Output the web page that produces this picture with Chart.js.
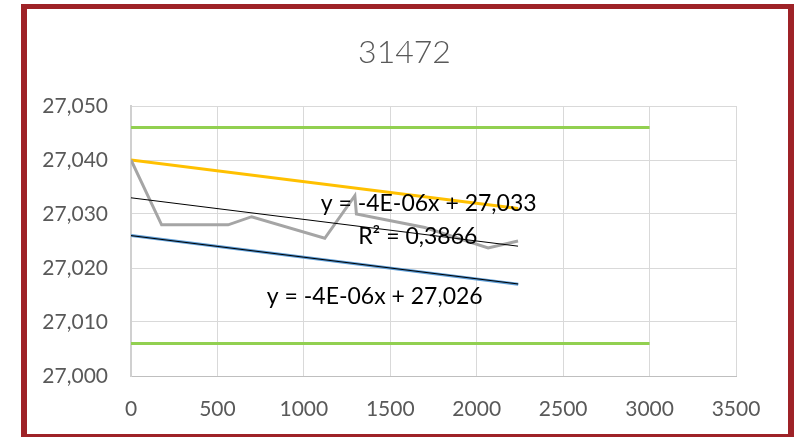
<!DOCTYPE html>
<html>
<head>
<meta charset="utf-8">
<script src="https://cdn.jsdelivr.net/npm/chart.js@4/dist/chart.umd.min.js"></script>
<style>
  html, body { margin: 0; padding: 0; background: #fff; }
  #frame {
    position: absolute; left: 21px; top: 4px;
    width: 773px; height: 436px; box-sizing: border-box;
    border: 6px solid #9E2227; border-top-width: 5px; background: #fff;
  }
  #frame canvas { display: block; }
</style>
</head>
<body>
<div id="frame"><canvas id="c" width="761" height="425"></canvas></div>
<script>
// Measured profile (distance vs value)
const distance = [0, 177, 562, 698, 1121, 1295, 1304, 1700, 2066, 2239];
const measured = [27.040, 27.028, 27.028, 27.0295, 27.0255, 27.0334, 27.0300, 27.0275, 27.0237, 27.0250];

// Tolerance limits
const limitX = [0, 3000];
const upperLimit = [27.046, 27.046];
const lowerLimit = [27.006, 27.006];

// Upper / lower bounding lines
const boundX = [0, 2240];
const upperBound = [27.040, 27.031];
const lowerBound = [27.026, 27.017];

// Trendline equations as printed
const trendSlope = -4e-6;
const trendIntercept = 27.033;
const lowerTrendIntercept = 27.026;
const rSquared = '0,3866';

// Axis ticks
const xTickValues = [0, 500, 1000, 1500, 2000, 2500, 3000, 3500];
const xTickLabels = ['0', '500', '1000', '1500', '2000', '2500', '3000', '3500'];
const yTickValues = [27.000, 27.010, 27.020, 27.030, 27.040, 27.050];
const yTickLabels = ['27,000', '27,010', '27,020', '27,030', '27,040', '27,050'];

const chartTitle = '31472';

const pts = (xs, ys) => xs.map((x, i) => ({ x: x, y: ys[i] }));
const trendPts = (xs, b) => xs.map(x => ({ x: x, y: trendSlope * x + b }));

const FONT = 'Lato, "Open Sans", sans-serif';

const overlayText = {
  id: 'overlayText',
  afterDraw(chart) {
    const ctx = chart.ctx;
    const xs = chart.scales.x, ys = chart.scales.y;
    ctx.save();
    // title
    ctx.fillStyle = '#595959';
    ctx.font = '300 32px ' + FONT;
    ctx.textAlign = 'center';
    ctx.textBaseline = 'middle';
    ctx.fillText(chartTitle, chart.width / 2 - 3, 44);
    // trendline labels
    ctx.fillStyle = '#000';
    ctx.font = '23px ' + FONT;
    const fmt = v => v.toFixed(3).replace('.', ',');
    const lbl = (t, dx, dy) => ctx.fillText(t, xs.getPixelForValue(dx), ys.getPixelForValue(dy));
    lbl('y = -4E-06x + ' + fmt(trendIntercept), 1722, 27.0319);
    lbl('R\u00B2 = ' + rSquared, 1659, 27.0258);
    lbl('y = -4E-06x + ' + fmt(lowerTrendIntercept), 1410, 27.0148);
    ctx.restore();
  }
};

const line = (data, color, width) => ({
  data: data, showLine: true, borderColor: color, backgroundColor: color,
  borderWidth: width, pointRadius: 0, fill: false, tension: 0
});

new Chart(document.getElementById('c'), {
  type: 'scatter',
  data: {
    datasets: [
      line(trendPts([distance[0], distance[distance.length - 1]], trendIntercept), '#000000', 1),
      line(trendPts(boundX, lowerTrendIntercept), '#000000', 1),
      line(pts(distance, measured), '#A5A5A5', 3),
      line(pts(boundX, lowerBound), '#5B9BD5', 3),
      line(pts(boundX, upperBound), '#FFC000', 3),
      line(pts(limitX, upperLimit), '#92D050', 3),
      line(pts(limitX, lowerLimit), '#92D050', 3)
    ]
  },
  options: {
    responsive: false,
    animation: false,
    layout: { padding: { left: 0, right: 52, top: 97, bottom: 0 } },
    plugins: { legend: { display: false }, title: { display: false }, tooltip: { enabled: false } },
    scales: {
      x: {
        type: 'linear', min: 0, max: 3500,
        afterBuildTicks: a => { a.ticks = xTickValues.map(v => ({ value: v })); },
        afterFit: a => { a.height = 58; },
        grid: { color: '#D9D9D9', lineWidth: 1, drawTicks: false },
        border: { color: '#BFBFBF', width: 1 },
        ticks: {
          color: '#595959', font: { family: FONT, size: 21 }, padding: 21, maxRotation: 0,
          callback: (v, i) => xTickLabels[i]
        }
      },
      y: {
        type: 'linear', min: 27.000, max: 27.050,
        afterBuildTicks: a => { a.ticks = yTickValues.map(v => ({ value: v })); },
        afterFit: a => { a.width = 104; },
        grid: { color: '#D9D9D9', lineWidth: 1, drawTicks: false },
        border: { color: '#D0D0D0', width: 2 },
        ticks: {
          color: '#595959', font: { family: FONT, size: 21 }, padding: 23,
          callback: (v, i) => yTickLabels[i]
        }
      }
    }
  },
  plugins: [overlayText]
});
</script>
</body>
</html>
